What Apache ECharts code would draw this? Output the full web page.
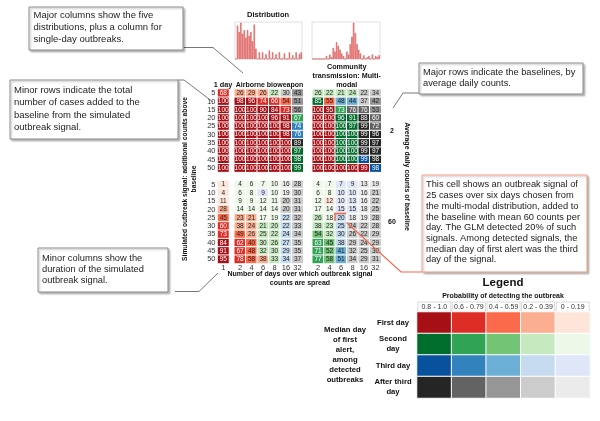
<!DOCTYPE html>
<html><head><meta charset="utf-8">
<script src="https://cdn.jsdelivr.net/npm/echarts@6/dist/echarts.min.js"></script>
<style>html,body{margin:0;padding:0;background:#fff}#c{width:600px;height:421px}</style>
</head><body><div id="c"></div>
<script>
// ---------------- DATA ----------------
const rowLabels = ['5','10','15','20','25','30','35','40','45','50'];
const durations = ['2','4','6','8','16','32'];
const oneDayLabel = ['1'];
const baselineLabels = ['2','60'];
const probBins = ['0.8 - 1.0','0.6 - 0.79','0.4 - 0.59','0.2 - 0.39','0 - 0.19'];
const dayLabels = ['First day','Second\nday','Third day','After third\nday'];

// detection probability (%) – single-day outbreaks
const oneDayB2  = [68,100,100,100,100,100,100,100,100,100];
const oneDayB60 = [1,4,11,28,45,60,73,84,91,95];

// Airborne bioweapon, baseline 2
const airborneB2 = [
  [26,29,26,22,30,43],[98,96,74,66,54,51],[100,100,90,84,73,56],[100,100,100,96,91,67],
  [100,100,100,100,98,74],[100,100,100,100,98,76],[100,100,100,100,100,89],
  [100,100,100,100,100,97],[100,100,100,100,100,98],[100,100,100,100,100,99]];
const airborneB2Day = [
  [1,1,1,2,4,4],[1,1,1,1,1,4],[1,1,1,1,1,4],[1,1,1,1,1,2],[1,1,1,1,1,3],
  [1,1,1,1,1,3],[1,1,1,1,1,4],[1,1,1,1,1,2],[1,1,1,1,1,2],[1,1,1,1,1,2]];
// Airborne bioweapon, baseline 60
const airborneB60 = [
  [4,6,7,10,16,28],[6,8,9,10,19,30],[9,9,12,11,20,31],[14,14,14,14,20,31],[23,21,17,19,22,32],
  [38,24,21,20,22,33],[49,26,25,22,24,34],[62,40,30,26,27,35],[67,48,32,30,29,35],[78,58,38,33,34,37]];
const airborneB60Day = [
  [2,2,2,2,4,4],[2,2,3,2,4,4],[2,2,2,2,4,4],[2,2,2,2,4,4],[1,1,2,2,3,4],
  [1,1,2,2,3,4],[1,1,2,2,3,4],[1,1,2,2,3,4],[1,1,2,2,3,4],[1,1,1,2,3,4]];
// Community transmission: multi-modal, baseline 2
const communityB2 = [
  [26,22,21,24,22,34],[85,55,48,44,37,42],[100,95,73,76,76,53],[100,100,96,91,88,60],
  [100,100,100,97,99,72],[100,100,100,100,99,96],[100,100,100,100,99,97],
  [100,100,100,100,99,97],[100,100,100,100,99,98],[100,100,100,100,99,98]];
const communityB2Day = [
  [2,2,2,2,4,4],[2,1,3,3,4,4],[1,1,2,4,4,4],[1,1,2,2,4,4],[1,1,2,2,4,4],
  [1,1,2,2,4,4],[1,1,2,2,4,4],[1,1,2,2,4,4],[1,1,2,2,3,4],[1,1,1,1,1,3]];
// Community transmission: multi-modal, baseline 60
const communityB60 = [
  [4,7,7,9,13,19],[6,8,10,10,16,21],[12,12,10,13,16,22],[17,14,15,15,18,25],[26,18,20,18,19,28],
  [38,23,25,24,22,28],[54,32,30,26,22,29],[63,45,38,29,24,29],[71,52,41,32,25,30],[77,58,51,34,29,31]];
const communityB60Day = [
  [2,2,3,3,4,4],[2,2,3,3,4,4],[2,1,3,3,4,4],[2,2,3,3,4,4],[2,2,3,4,4,4],
  [2,2,3,4,4,4],[2,2,3,4,4,4],[2,2,3,4,4,4],[2,2,3,4,4,4],[2,2,3,4,4,4]];

// distributions (relative frequency)
const histAirborne = [0,90,73,98,68,78,58,78,63,73,48,93,28,0,18,0,18,0,13,0,
                      23,0,18,0,13,0,18,0,0,15,0,0,18,0,10,0,18,0,13,18];
const histMultimodal = [0,0,0,0,0,0,0,0,8,0,12,5,30,20,45,35,25,15,8,0,
                        20,12,40,60,98,70,40,25,15,0,10,0,5,8,0,12,0,8,5,10];

// highlighted cell: community, baseline 60, 25 cases, 6 days
const highlight = {baseline: 1, row: 4, col: 2};

// ---------------- STYLE ----------------
const FF = 'Liberation Sans, Arial, sans-serif';
const palette = [
  ['#a50f15','#de2d26','#fb6a4a','#fcae91','#fee5d9'],
  ['#006d2c','#31a354','#74c476','#c7e9c0','#edf8e9'],
  ['#08519c','#3182bd','#6baed6','#c6dbef','#dee6f7'],
  ['#252525','#636363','#969696','#cccccc','#ebebeb']
];
function binOf(p){ return p>=80?0:p>=60?1:p>=40?2:p>=20?3:4; }
const yCats = [];
for (let i=0;i<21;i++) yCats.push(String(i));
const yLab = [...rowLabels, '', ...rowLabels];

function cells(blocks, hl){
  const out=[];
  blocks.forEach(([vals,days],bi)=>{
    vals.forEach((row,ri)=>{
      row.forEach((v,ci)=>{
        const bin = binOf(v);
        const item = {value:[ci, bi*11+ri, v],
          itemStyle:{color: palette[days[ri][ci]-1][bin]},
          label:{color: bin<=1 ? '#fff' : '#222'}};
        if (hl && hl.baseline===bi && hl.row===ri && hl.col===ci) {
          item.itemStyle.borderColor = '#f0694a'; item.itemStyle.borderWidth = 1.5;
        }
        out.push(item);
      });
    });
  });
  return out;
}
const oneDayDays = oneDayB2.map(()=>[1]);
const d1 = cells([[oneDayB2.map(v=>[v]), oneDayDays],[oneDayB60.map(v=>[v]), oneDayDays]]);
const dA = cells([[airborneB2, airborneB2Day],[airborneB60, airborneB60Day]]);
const dC = cells([[communityB2, communityB2Day],[communityB60, communityB60Day]], highlight);

const legendData = [];
dayLabels.forEach((d,di)=>probBins.forEach((b,bi)=>legendData.push({value:[bi,di,1], itemStyle:{color: palette[di][bi]}})));

const TOP=89, H=174.5;
const grids = [
  {left:217.5, top:TOP, width:11.5, height:H},
  {left:234.25, top:TOP, width:69, height:H},
  {left:312.25, top:TOP, width:69, height:H},
  {left:235, top:22, width:67, height:37, show:true, borderColor:'#d8d8d8', borderWidth:0.8},
  {left:312, top:22, width:68, height:37, show:true, borderColor:'#d8d8d8', borderWidth:0.8},
  {left:417, top:312, width:173, height:86}
];
function hx(i, data){ return {gridIndex:i, type:'category', data, axisLine:{show:false}, axisTick:{show:false}, splitLine:{show:false},
  axisLabel:{fontSize:7.5, color:'#333', margin:0, interval:0, fontFamily:FF}}; }
function hy(i, show){ return {gridIndex:i, type:'category', data:yCats, inverse:true, axisLine:{show:false}, axisTick:{show:false},
  axisLabel:{show:show, fontSize:7.5, color:'#333', margin:2, interval:0, fontFamily:FF, formatter:(v,idx)=>yLab[idx]}}; }
const heatLabel = {show:true, fontSize:6.5, fontFamily:FF, formatter:p=>p.value[2]};
const heatItem = {borderColor:'#fff', borderWidth:1};

const T = (text,x,y,o={}) => ({type:'text', x, y, rotation:o.rot||0, z:10, style:{text, x:0, y:0, fill:o.fill||'#111',
  fontSize:o.fs||7, fontWeight:o.fw||'bold', fontFamily:FF, align:o.align||'center', verticalAlign:o.va||'middle', lineHeight:o.lh}});
const box = (x,y,w,h,stroke) => ({type:'rect', z:5, shape:{x,y,width:w,height:h},
  style:{fill:'#fff', stroke:stroke||'#8a8a8a', lineWidth:1, shadowBlur:2, shadowOffsetX:1.5, shadowOffsetY:1.5, shadowColor:'rgba(0,0,0,0.25)'}});
const line = (pts, c, w) => ({type:'polyline', z:4, shape:{points:pts}, style:{stroke:c||'#555', lineWidth:w||0.8, fill:null}});
const note = (lines,x,y,lh,fs) => ({type:'text', x, y, z:11, style:{text:lines.join('\n'), fill:'#222', fontSize:fs, fontFamily:FF, lineHeight:lh, align:'left', verticalAlign:'top'}});

const option = {
  animation:false,
  textStyle:{fontFamily:FF},
  grid: grids,
  xAxis: [
    hx(0, oneDayLabel), hx(1, durations), hx(2, durations),
    {gridIndex:3, type:'category', data:histAirborne.map((_,i)=>i), show:false},
    {gridIndex:4, type:'category', data:histMultimodal.map((_,i)=>i), show:false},
    {gridIndex:5, type:'category', data:probBins, position:'top', axisLine:{show:false}, axisTick:{show:false},
      axisLabel:{interval:0, fontSize:7, color:'#333', margin:0, width:33, align:'center', borderColor:'#d0d0d0', borderWidth:0.8, padding:[2,0,1,0], fontFamily:FF}}
  ],
  yAxis: [
    hy(0,true), hy(1,false), hy(2,false),
    {gridIndex:3, type:'value', show:false, max:100, splitLine:{show:false}},
    {gridIndex:4, type:'value', show:false, max:100, splitLine:{show:false}},
    {gridIndex:5, type:'category', data:dayLabels, inverse:true, axisLine:{show:false}, axisTick:{show:false},
      axisLabel:{interval:0, fontSize:7.7, fontWeight:'bold', color:'#111', align:'center', margin:24, lineHeight:10, fontFamily:FF}}
  ],
  series: [
    {type:'heatmap', xAxisIndex:0, yAxisIndex:0, data:d1, label:heatLabel, itemStyle:heatItem},
    {type:'heatmap', xAxisIndex:1, yAxisIndex:1, data:dA, label:heatLabel, itemStyle:heatItem},
    {type:'heatmap', xAxisIndex:2, yAxisIndex:2, data:dC, label:heatLabel, itemStyle:heatItem, z:3},
    {type:'bar', xAxisIndex:3, yAxisIndex:3, data:histAirborne, barCategoryGap:'20%',
      itemStyle:{color:'#f2a3a3', borderColor:'#d23a3a', borderWidth:0.5}},
    {type:'bar', xAxisIndex:4, yAxisIndex:4, data:histMultimodal, barCategoryGap:'20%',
      itemStyle:{color:'#f2a3a3', borderColor:'#d23a3a', borderWidth:0.5}},
    {type:'heatmap', xAxisIndex:5, yAxisIndex:5, data:legendData, label:{show:false}, itemStyle:{borderColor:'#fff', borderWidth:1}}
  ],
  graphic: [
    // connectors
    line([[184,47.5],[213,47.5],[243,73]]),
    line([[178,80],[184,80],[213,102]]),
    line([[419,93],[403,93],[393,108]]),
    line([[175,291.5],[199,291.5],[218,273]]),
    line([[346.5,222.5],[401,272],[422,272]], '#f0694a', 1.2),
    // annotation boxes
    box(29,7,154,43), note(['Major columns show the five','distributions, plus a column for','single-day outbreaks.'],33.5,9,12.2,9.5),
    box(10,80,168,59), note(['Minor rows indicate the total','number of cases added to the','baseline from the simulated','outbreak signal.'],14,84,12.4,9.5),
    box(419,63,164,31), note(['Major rows indicate the baselines, by','average daily counts.'],423,67,10.7,9.3),
    box(38,248,130,44), note(['Minor columns show the','duration of the simulated','outbreak signal.'],42,252.5,11,9.3),
    box(422,175,165,97,'#f39a80'), note(['This cell shows an outbreak signal of','25 cases over six days chosen from','the multi-modal distribution, added to','the baseline with mean 60 counts per','day. The GLM detected 20% of such','signals. Among detected signals, the','median day of first alert was the third','day of the signal.'],426,179.5,10.7,9.3),
    // titles
    T('Distribution',268,15,{fs:7.5}),
    T('1 day',223,85,{fs:7.3}),
    T('Airborne bioweapon',269.5,85,{fs:7}),
    T('Community\ntransmission: Multi-\nmodal',346.75,76,{fs:7.2,lh:9}),
    T('Number of days over which outbreak signal\ncounts are spread',300,278.5,{fs:7,lh:9}),
    T('Simulated outbreak signal: additional counts above\nbaseline',189.5,179,{fs:6.7,lh:9,rot:Math.PI/2}),
    T('Average daily counts of baseline',407,176.5,{fs:7,rot:-Math.PI/2}),
    T(baselineLabels[0],392,131.5,{fs:7}),
    T(baselineLabels[1],392,222,{fs:7}),
    T('Legend',503,283,{fs:11.5}),
    T('Probability of detecting the outbreak',503,296,{fs:7}),
    T('Median day\nof first\nalert,\namong\ndetected\noutbreaks',345,355,{fs:7.7,lh:10})
  ]
};
echarts.init(document.getElementById('c'), null, {renderer:'canvas'}).setOption(option);
</script></body></html>
